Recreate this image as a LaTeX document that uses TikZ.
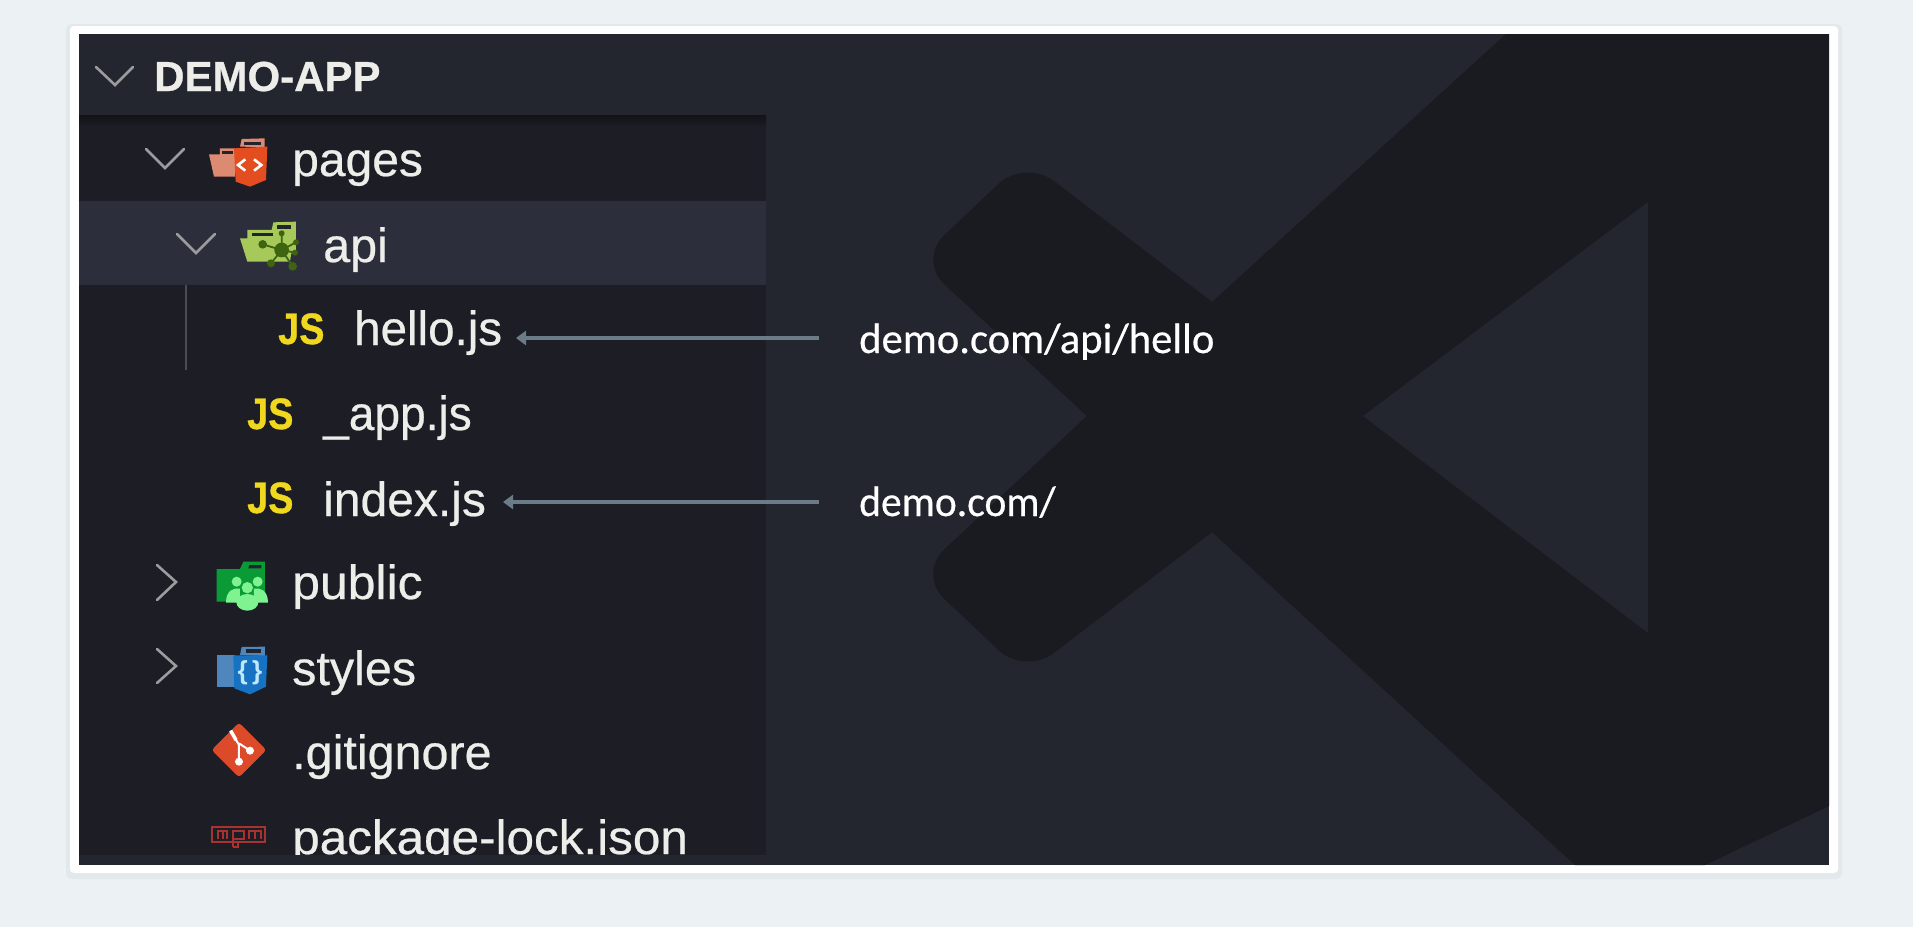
\documentclass[tikz,border=0pt]{standalone}
\usepackage{fontspec}
\setmainfont{Liberation Sans}
\newfontfamily\urlfont[FakeBold=0.5]{Carlito}
\newfontfamily\filefont[FakeBold=0.5]{Liberation Sans}
\newfontfamily\headfont[FakeBold=0.6]{Liberation Sans Bold}
\newfontfamily\jsfont[FakeBold=0.8]{Liberation Sans Bold}
\usetikzlibrary{arrows.meta}
\definecolor{pagebg}{HTML}{ECF1F4}
\definecolor{cardshadow}{HTML}{E3E8EC}
\definecolor{panelbg}{HTML}{23252F}
\definecolor{logodark}{HTML}{1A1B20}
\definecolor{sidebg}{HTML}{1C1D25}
\definecolor{rowbg}{HTML}{2C2F3B}
\definecolor{filetext}{HTML}{EDEDEA}
\definecolor{chev}{HTML}{9B9C9E}
\definecolor{guide}{HTML}{4A4C54}
\definecolor{arrowcol}{HTML}{6C7B88}
\definecolor{jsyellow}{HTML}{EFD81D}
\definecolor{slot}{HTML}{23242B}
\definecolor{salmon1}{HTML}{DD8A72}
\definecolor{orange1}{HTML}{E44D1F}
\definecolor{apigreen}{HTML}{A6C95A}
\definecolor{apidark}{HTML}{3F6410}
\definecolor{pubgreen}{HTML}{0A9A36}
\definecolor{publight}{HTML}{7FF38F}
\definecolor{stylesback}{HTML}{4F86BD}
\definecolor{stylesfront}{HTML}{1773C2}
\definecolor{stylesbrace}{HTML}{BFE8FF}
\definecolor{gitred}{HTML}{DD4A2A}
\definecolor{npmred}{HTML}{A83230}
\tikzset{
  filelabel/.style={anchor=base west,inner sep=0pt,text=filetext,font=\filefont\fontsize{48}{50}\selectfont},
  headlabel/.style={anchor=base west,inner sep=0pt,text=filetext,font=\headfont\fontsize{42}{44}\selectfont},
  urllabel/.style={anchor=base west,inner sep=0pt,text=white,font=\urlfont\fontsize{42.6}{44}\selectfont},
  jsicon/.style={anchor=base west,inner sep=0pt,text=jsyellow,font=\jsfont\fontsize{44}{44}\selectfont},
  chevron/.style={draw=chev,line width=2.6pt,line cap=round,line join=miter},
  maparrow/.style={draw=arrowcol,line width=3.5pt,-{Triangle[length=10pt,width=14pt]}},
  iconscale/.style={x=.3333pt,y=-.3333pt},
}
\newcommand{\sx}[2]{\scalebox{#1}[1]{#2}}
\begin{document}
\begin{tikzpicture}[x=1pt,y=-1pt]
\useasboundingbox (0,0) rectangle (1913,927);
\fill[pagebg] (0,0) rectangle (1913,927);
% card
\fill[cardshadow,rounded corners=6pt] (66,24) rectangle (1842,879);
\fill[white,rounded corners=4pt] (70,26) rectangle (1838,873);
% panel
\fill[panelbg] (79,34) rectangle (1829,865);
% logo
\fill[logodark] (1506,34) -- (1829,34) -- (1829,806) -- (1705,865) -- (1575,865) -- (1212,532)
  [rounded corners=36pt] -- (1025,675) -- (918,574) [sharp corners] -- (1087,416)
  [rounded corners=36pt] -- (918,260) -- (1025,159) [sharp corners] -- (1212,302) -- cycle;
\fill[panelbg] (1648,202) -- (1363,416) -- (1648,633) -- cycle;
% sidebar
\fill[sidebg] (79,115) rectangle (766,855);
\shade[top color=sidebg!65!black,bottom color=sidebg] (79,115) rectangle (766,127);
\fill[rowbg] (79,201) rectangle (766,285);
\draw[guide,line width=2pt] (186,285) -- (186,370);
% chevrons
\draw[chevron] (96,67) -- (115,85) -- (133,67);
\draw[chevron] (146,149) -- (165,168) -- (184,149);
\draw[chevron] (177,234) -- (196,253) -- (215,234);
\draw[chevron] (157,565) -- (176,582) -- (157,600);
\draw[chevron] (157,649) -- (176,666) -- (157,683);
% labels
\node[headlabel] (demoapp) at (154,91) {DEMO-APP};
\begin{scope}
\clip (79,115) rectangle (766,854);
\node[filelabel] (pages) at (292,176) {\sx{1.0}{pages}};
\node[filelabel] (api) at (323,262) {\sx{1.01}{api}};
\node[filelabel] (hello) at (354,345) {\sx{.99}{hello.js}};
\node[filelabel] (app) at (323,430) {\sx{.96}{\_app.js}};
\node[filelabel] (index) at (323,516) {\sx{1.0}{index.js}};
\node[filelabel] (public) at (292,599) {\sx{1.04}{public}};
\node[filelabel] (styles) at (292,685) {\sx{1.01}{styles}};
\node[filelabel] (gitignore) at (292,769) {\sx{1.01}{.gitignore}};
\node[filelabel] (lockfile) at (292,854) {\sx{1.03}{package-lock.json}};
\end{scope}
\node[jsicon] (jsa) at (278,344) {\sx{.86}{JS}};
\node[jsicon] (jsb) at (247,429) {\sx{.86}{JS}};
\node[jsicon] (jsc) at (247,513) {\sx{.86}{JS}};
\node[urllabel] (urlhello) at (859,353) {demo.com/api/hello};
\node[urllabel] (urlindex) at (859,516) {\sx{.975}{demo.com/}};
% arrows
\coordinate (tiphello) at (516,338);
\coordinate (tipindex) at (503,502);
\draw[maparrow] ([xshift=-40pt]urlhello.west |- tiphello) -- (tiphello);
\draw[maparrow] ([xshift=-40pt]urlindex.west |- tipindex) -- (tipindex);
% pages icon
\begin{scope}[shift={(190,125)},iconscale]
\fill[salmon1] (57,88) -- (90,88) -- (90,70) -- (135,70) -- (135,155) -- (72,155) -- cycle;
\fill[slot] (97,77) rectangle (128,86);
\fill[salmon1] (150,65) -- (155,42) -- (224,40) -- (224,66) -- cycle;
\fill[slot] (163,50) rectangle (214,60);
\fill[orange1] (132,70) -- (232,65) -- (228,165) -- (180,185) -- (137,170) -- cycle;
\draw[white,line width=2.6pt,line join=miter] (166,103) -- (144,120) -- (166,137);
\draw[white,line width=2.6pt,line join=miter] (192,103) -- (214,120) -- (192,137);
% api icon
\fill[apigreen] (245,315) -- (250,292) -- (318,290) -- (318,385) -- (245,385) -- cycle;
\fill[slot] (262,300) rectangle (303,312);
\fill[apigreen] (150,340) -- (172,340) -- (172,315) -- (250,315) -- (310,345) -- (300,410) -- (172,410) -- cycle;
\fill[slot] (185,323) rectangle (248,333);
\draw[apidark,line width=1.8pt] (275,375) -- (218,358) (275,375) -- (275,325) (275,375) -- (318,352) (275,375) -- (315,383) (275,375) -- (308,424) (275,375) -- (243,415);
\fill[apidark] (275,375) circle[radius=22];
\fill[apidark] (218,358) circle[radius=13];
\fill[apidark] (275,325) circle[radius=9];
\fill[apidark] (318,352) circle[radius=9];
\fill[apidark] (315,383) circle[radius=9];
\fill[apidark] (308,424) circle[radius=13];
\fill[apidark] (243,415) circle[radius=12];
\end{scope}
% public icon
\begin{scope}[shift={(190,550)},iconscale]
\fill[pubgreen] (80,57) -- (150,57) -- (160,35) -- (225,35) -- (225,155) -- (80,155) -- cycle;
\fill[slot] (178,45) -- (214,45) -- (214,55) -- (175,55) -- cycle;
\fill[publight] (140,95) circle[radius=15];
\fill[publight] (203,95) circle[radius=15];
\fill[publight] (108,158) .. controls (108,122) and (130,112) .. (150,116) -- (150,158) -- cycle;
\fill[publight] (234,158) .. controls (234,122) and (212,112) .. (192,116) -- (192,158) -- cycle;
\fill[publight] (172,113) circle[radius=17];
\fill[publight] (172,157) ellipse[x radius=33,y radius=25];
% styles icon
\fill[stylesback] (80,315) rectangle (135,410);
\fill[stylesback] (150,315) -- (155,291) -- (225,290) -- (225,318) -- cycle;
\fill[slot] (167,298) rectangle (214,310);
\fill[stylesfront] (130,316) -- (232,316) -- (228,410) -- (180,433) -- (133,415) -- cycle;
\node[inner sep=0pt,text=stylesbrace,font=\fontsize{26}{26}\bfseries\selectfont] (braces) at (180,367) {\{\,\}};
\end{scope}
% git icon
\begin{scope}[shift={(190,710)},iconscale]
\fill[gitred,rounded corners=3pt] (147,38) -- (229,120) -- (147,202) -- (65,120) -- cycle;
\draw[white,line width=2pt] (122,62) -- (147,105) -- (147,155) (147,100) -- (180,122);
\draw[white,line width=3.5pt] (122,62) -- (138,90);
\fill[white] (147,155) circle[radius=12];
\fill[white] (180,122) circle[radius=12];
% npm icon
\draw[npmred,line width=2.2pt] (67,350) rectangle (226,397);
\draw[npmred,line width=2.2pt] (84,388) -- (84,363) -- (112,363) -- (112,388) (98,363) -- (98,388);
\draw[npmred,line width=2.2pt] (128,410) -- (128,363) -- (162,363) -- (162,388) -- (128,388) (145,397) -- (145,410) -- (128,410);
\draw[npmred,line width=2.2pt] (176,388) -- (176,363) -- (212,363) -- (212,388) (194,363) -- (194,388);
\end{scope}
% bottom strip over sidebar
\fill[panelbg] (79,855) rectangle (766,865);
\end{tikzpicture}
\end{document}
